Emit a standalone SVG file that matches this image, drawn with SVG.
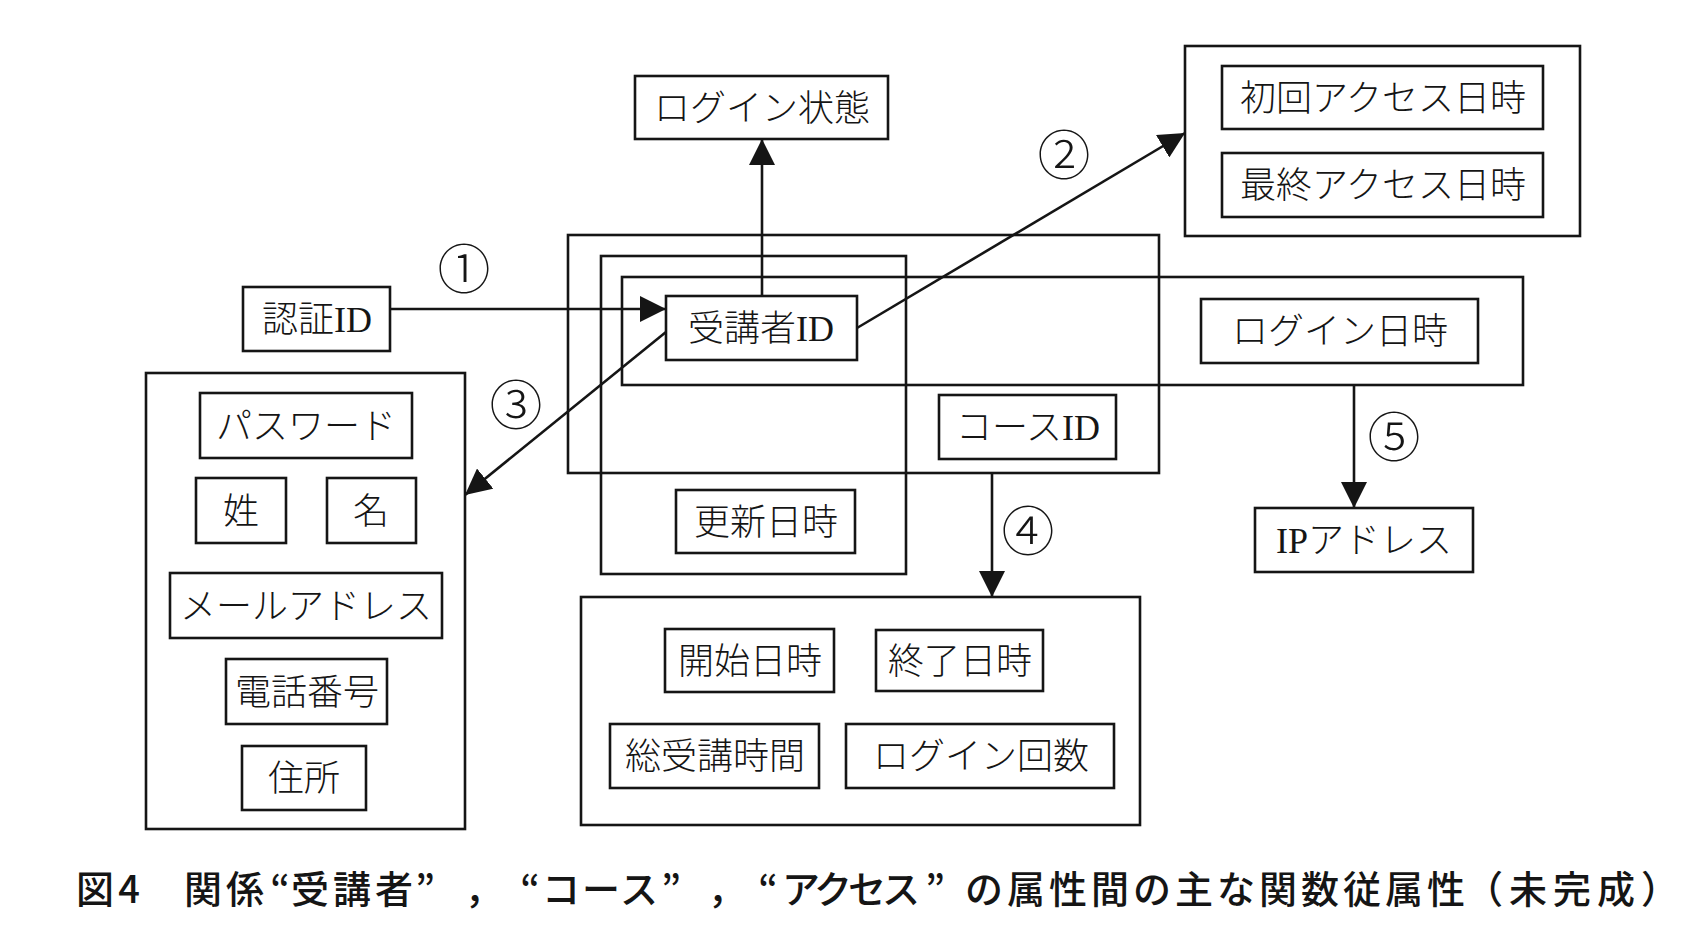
<svg xmlns="http://www.w3.org/2000/svg" width="1694" height="942" viewBox="0 0 1694 942">
<defs>
<style>
.b{fill:none;stroke:#151515;stroke-width:2.6}
.t{font-family:"Liberation Serif","Noto Sans CJK JP",serif;font-size:36px;font-weight:300;fill:#151515;text-anchor:middle}
.c{stroke:#151515;stroke-width:2.6;fill:none;marker-end:url(#ah)}
.n{font-family:"Noto Sans CJK JP",sans-serif;font-size:53px;font-weight:300;fill:#151515;text-anchor:middle}
.cap{font-family:"Noto Sans CJK JP",sans-serif;font-size:38px;font-weight:500;fill:#151515;text-anchor:middle}
</style>
<marker id="ah" markerUnits="userSpaceOnUse" markerWidth="26" markerHeight="26" refX="26" refY="13" orient="auto" viewBox="0 0 26 26">
<path d="M0,0 L26,13 L0,26 z" fill="#151515"/>
</marker>
</defs>
<rect width="1694" height="942" fill="#ffffff"/>

<g id="frame-access-key"><rect class="b" x="568" y="235" width="591" height="238"/></g>
<g id="frame-learner"><rect class="b" x="601" y="256" width="305" height="318"/></g>
<g id="frame-login"><rect class="b" x="622" y="277" width="901" height="108"/></g>

<g id="login-state"><rect class="b" x="635" y="76" width="253" height="63"/><text class="t" x="762" y="121">ログイン状態</text></g>
<g id="access-group"><rect class="b" x="1185" y="46" width="395" height="190"/></g>
<g id="first-access"><rect class="b" x="1222" y="66" width="321" height="63"/><text class="t" x="1383" y="111">初回アクセス日時</text></g>
<g id="last-access"><rect class="b" x="1222" y="153" width="321" height="64"/><text class="t" x="1383" y="198">最終アクセス日時</text></g>
<g id="auth-id"><rect class="b" x="243" y="287" width="147" height="64"/><text class="t" x="317" y="332">認証ID</text></g>
<g id="learner-id"><rect class="b" x="666" y="296" width="191" height="64"/><text class="t" x="761" y="341">受講者ID</text></g>
<g id="login-datetime"><rect class="b" x="1201" y="299" width="277" height="64"/><text class="t" x="1340" y="344">ログイン日時</text></g>
<g id="course-id"><rect class="b" x="939" y="395" width="177" height="64"/><text class="t" x="1028" y="440">コースID</text></g>
<g id="updated"><rect class="b" x="676" y="490" width="179" height="63"/><text class="t" x="766" y="535">更新日時</text></g>
<g id="ip-address"><rect class="b" x="1255" y="508" width="218" height="64"/><text class="t" x="1364" y="553">IPアドレス</text></g>

<g id="course-group"><rect class="b" x="581" y="597" width="559" height="228"/></g>
<g id="start-dt"><rect class="b" x="665" y="629" width="169" height="63"/><text class="t" x="750" y="674">開始日時</text></g>
<g id="end-dt"><rect class="b" x="876" y="630" width="167" height="61"/><text class="t" x="960" y="674">終了日時</text></g>
<g id="total-time"><rect class="b" x="610" y="724" width="209" height="64"/><text class="t" x="715" y="769">総受講時間</text></g>
<g id="login-count"><rect class="b" x="846" y="724" width="268" height="64"/><text class="t" x="981" y="769">ログイン回数</text></g>

<g id="learner-group"><rect class="b" x="146" y="373" width="319" height="456"/></g>
<g id="password"><rect class="b" x="200" y="393" width="212" height="65"/><text class="t" x="306" y="439">パスワード</text></g>
<g id="sei"><rect class="b" x="196" y="478" width="90" height="65"/><text class="t" x="241" y="524">姓</text></g>
<g id="mei"><rect class="b" x="327" y="478" width="89" height="65"/><text class="t" x="371" y="524">名</text></g>
<g id="mail"><rect class="b" x="170" y="573" width="272" height="65"/><text class="t" x="306" y="619">メールアドレス</text></g>
<g id="tel"><rect class="b" x="226" y="659" width="161" height="65"/><text class="t" x="307" y="705">電話番号</text></g>
<g id="address"><rect class="b" x="242" y="746" width="124" height="64"/><text class="t" x="304" y="791">住所</text></g>

<g id="connectors">
<path class="c" d="M390,309 L666,309"/>
<path class="c" d="M762,296 L762,139"/>
<path class="c" d="M857,328 L1185,133"/>
<path class="c" d="M666,332 L465,495"/>
<path class="c" d="M992,473 L992,597"/>
<path class="c" d="M1354,385 L1354,508"/>
</g>

<g id="labels">
<text class="n" x="464" y="289">①</text>
<text class="n" x="1064" y="175">②</text>
<text class="n" x="516" y="425">③</text>
<text class="n" x="1028" y="551">④</text>
<text class="n" x="1394" y="457">⑤</text>
</g>

<g id="caption">
<text class="cap" y="903"><tspan x="95">図</tspan><tspan x="129">4</tspan><tspan x="226" letter-spacing="4">関係</tspan><tspan x="280">“</tspan><tspan x="354" letter-spacing="4">受講者</tspan><tspan x="425">”</tspan><tspan x="484">，</tspan><tspan x="530">“</tspan><tspan x="601" letter-spacing="2">コース</tspan><tspan x="671">”</tspan><tspan x="727">，</tspan><tspan x="768">“</tspan><tspan x="849" letter-spacing="-4">アクセス</tspan><tspan x="935">”</tspan><tspan x="1217" letter-spacing="4">の属性間の主な関数従属性</tspan><tspan x="1575" letter-spacing="6">（未完成）</tspan></text>
</g>
</svg>
